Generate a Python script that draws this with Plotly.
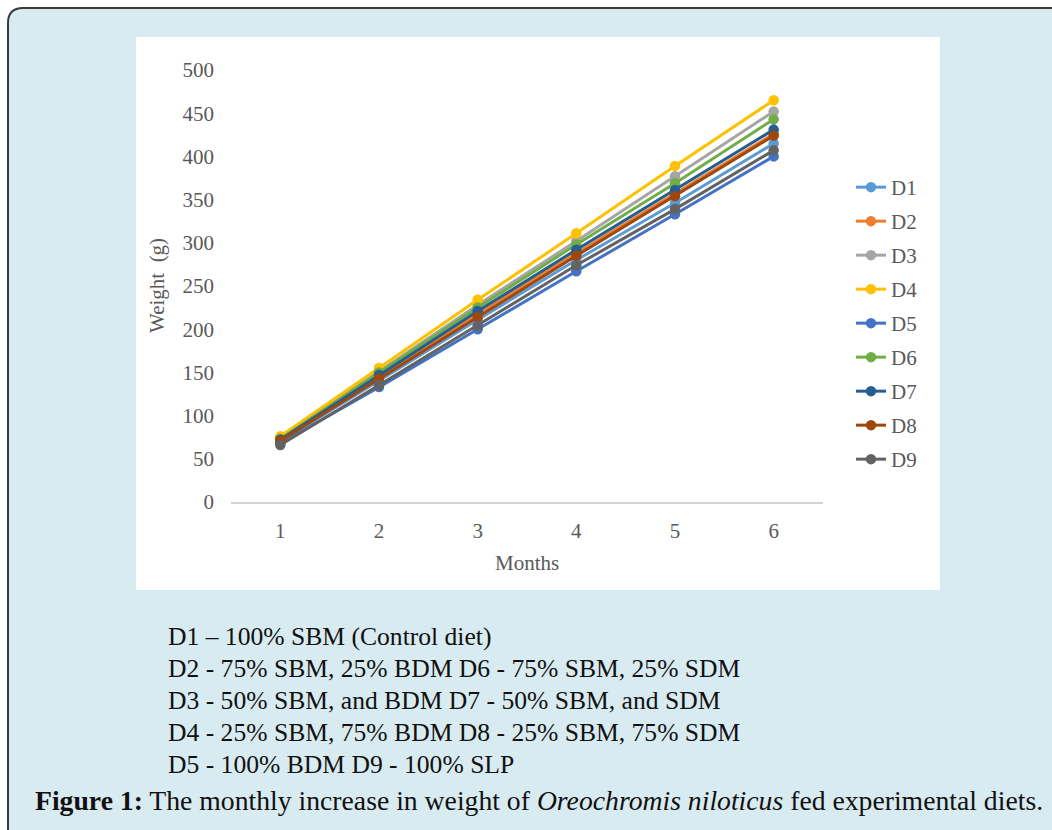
import plotly.graph_objects as go

W, H = 1052, 830

months = [1, 2, 3, 4, 5, 6]
series_names = ["D1", "D2", "D3", "D4", "D5", "D6", "D7", "D8", "D9"]
D1 = [70, 141, 211, 280, 346, 415]
D2 = [72, 145, 218, 288, 357, 426]
D3 = [74, 151, 228, 302, 377, 452]
D4 = [76, 155, 234, 311, 389, 465]
D5 = [68, 133, 200, 267, 333, 400]
D6 = [73, 150, 225, 298, 369, 443]
D7 = [72, 147, 221, 292, 361, 431]
D8 = [71, 143, 214, 285, 354, 424]
D9 = [66, 135, 204, 274, 339, 407]
series_values = [D1, D2, D3, D4, D5, D6, D7, D8, D9]
colors = ["#5B9BD5", "#ED7D31", "#A5A5A5", "#FFC000", "#4472C4",
          "#70AD47", "#255E91", "#9E480E", "#636363"]
y_ticks = [0, 50, 100, 150, 200, 250, 300, 350, 400, 450, 500]

caption_lines = [
    "D1 – 100% SBM (Control diet)",
    "D2 - 75% SBM, 25% BDM D6 - 75% SBM, 25% SDM",
    "D3 - 50% SBM, and BDM D7 - 50% SBM, and SDM",
    "D4 - 25% SBM, 75% BDM D8 - 25% SBM, 75% SDM",
    "D5 - 100% BDM D9 - 100% SLP",
]
figure_caption = ("<b>Figure 1:</b> The monthly increase in weight of "
                  "<i>Oreochromis niloticus</i> fed experimental diets.")


def px(x):
    return x / W


def py(y):
    return 1 - y / H


SERIF = "Liberation Serif, Times New Roman, serif"
TXT = "#595959"

fig = go.Figure()
for name, vals, col in zip(series_names, series_values, colors):
    fig.add_trace(go.Scatter(
        x=months, y=vals, name=name, mode="lines+markers",
        line=dict(color=col, width=3),
        marker=dict(color=col, size=10.5),
        legendgroup=name,
    ))

# background panel with rounded top-left corner
r = 15
path = (f"M {px(8)},{py(850)} L {px(8)},{py(8 + r)} "
        f"Q {px(8)},{py(8)} {px(8 + r)},{py(8)} L {px(1070)},{py(8)} "
        f"L {px(1070)},{py(850)} Z")
shapes = [
    dict(type="path", xref="paper", yref="paper", path=path,
         fillcolor="#d8ebf1", line=dict(color="#3a3a3a", width=2), layer="below"),
    dict(type="rect", xref="paper", yref="paper",
         x0=px(136), x1=px(940), y0=py(590), y1=py(37),
         fillcolor="white", line=dict(width=0), layer="below"),
]

annotations = [
    dict(text="Months", x=px(527), y=py(563), xref="paper", yref="paper",
         showarrow=False, font=dict(family=SERIF, size=21, color=TXT),
         xanchor="center", yanchor="middle"),
    dict(text="Weight  (g)", x=px(157), y=py(286), xref="paper", yref="paper",
         showarrow=False, textangle=-90,
         font=dict(family=SERIF, size=21, color=TXT),
         xanchor="center", yanchor="middle"),
]
y0 = 636
for i, line in enumerate(caption_lines):
    annotations.append(dict(
        text=line, x=px(166), y=py(y0 + i * 32), xref="paper", yref="paper",
        showarrow=False, xanchor="left", yanchor="middle",
        font=dict(family=SERIF, size=25.6, color="#111111")))
annotations.append(dict(
    text=figure_caption, x=px(33), y=py(800), xref="paper", yref="paper",
    showarrow=False, xanchor="left", yanchor="middle",
    font=dict(family=SERIF, size=27.7, color="#111111")))

fig.update_layout(
    width=W, height=H,
    margin=dict(l=0, r=0, t=0, b=0, autoexpand=False),
    paper_bgcolor="white", plot_bgcolor="rgba(0,0,0,0)",
    shapes=shapes, annotations=annotations,
    showlegend=True,
    legend=dict(x=px(851), y=py(167), xanchor="left", yanchor="top",
                font=dict(family=SERIF, size=21, color=TXT),
                bgcolor="rgba(0,0,0,0)", tracegroupgap=3.7,
                traceorder="grouped"),
    xaxis=dict(domain=[px(231), px(823)], range=[0.5, 6.5],
               tickvals=months, showgrid=False, zeroline=False,
               showline=True, linecolor="#d4d4d4", linewidth=1.5,
               ticks="", tickfont=dict(family=SERIF, size=21, color=TXT),
               ticklabelstandoff=9, automargin=False),
    yaxis=dict(domain=[py(502), py(70)], range=[0, 500],
               tickvals=y_ticks, showgrid=False, zeroline=False,
               showline=False, ticks="",
               tickfont=dict(family=SERIF, size=21, color=TXT),
               ticklabelstandoff=16, automargin=False),
)

fig.write_html("out.html")
